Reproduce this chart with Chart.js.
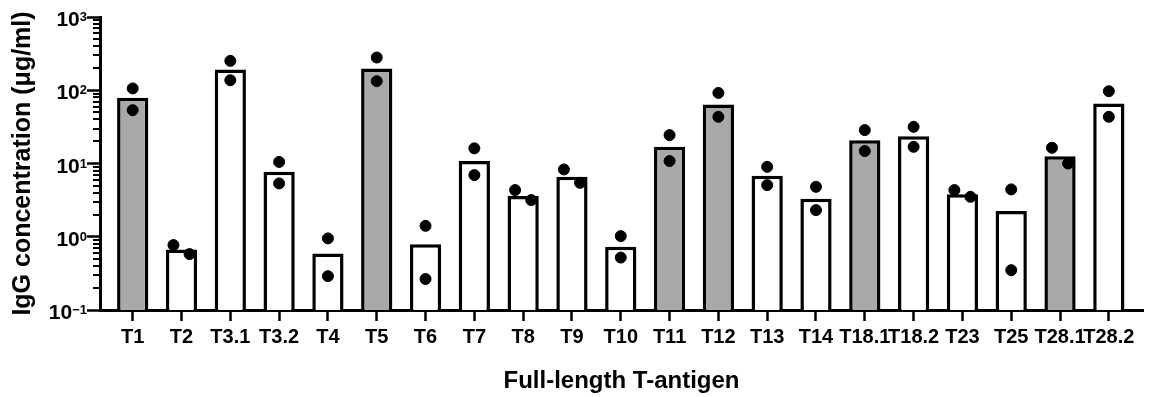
<!DOCTYPE html>
<html>
<head>
<meta charset="utf-8">
<script src="https://cdn.jsdelivr.net/npm/chart.js@4"></script>
<style>
  body { margin: 0; background: #fff; }
  #wrap { width: 1153px; height: 397px; }
</style>
</head>
<body>
<div id="wrap"><canvas id="chart"></canvas></div>
<script>
// ===== DATA =====
const categories = ['T1', 'T2', 'T3.1', 'T3.2', 'T4', 'T5', 'T6', 'T7', 'T8', 'T9', 'T10',
  'T11', 'T12', 'T13', 'T14', 'T18.1', 'T18.2', 'T23', 'T25', 'T28.1', 'T28.2'];
const meanValues = [79, 0.67, 192, 7.7, 0.59, 198, 0.79, 10.8, 3.6, 6.6, 0.73,
  16.9, 64, 6.8, 3.3, 20.8, 23.6, 3.8, 2.24, 12.6, 66];
const replicate1 = [106, 0.77, 252, 10.5, 0.95, 280, 1.41, 16.1, 4.34, 8.3, 1.02,
  24.4, 92, 9.0, 4.8, 28.6, 31.7, 4.34, 4.43, 16.4, 97];
const replicate2 = [53.5, 0.58, 137, 5.35, 0.29, 133, 0.265, 6.95, 3.17, 5.45, 0.52,
  10.8, 43.4, 5.07, 2.31, 14.8, 16.9, 3.51, 0.35, 10.0, 43.4];
const shadedAntigens = ['T1', 'T5', 'T11', 'T12', 'T18.1', 'T28.1'];
const yTickValues = [0.1, 1, 10, 100, 1000];

const FONT = "'Liberation Sans', Arial, sans-serif";

// ===== BUILD POINTS =====
const barPoints = categories.map((c, i) => ({ x: i, y: meanValues[i] }));
const dotPoints = [];
categories.forEach((c, i) => {
  // spread the two dots sideways when they would overlap
  let close = Math.abs(Math.log10(replicate1[i]) - Math.log10(replicate2[i])) < 0.23;
  let dx = close ? 0.165 : 0;
  dotPoints.push({ x: i - dx, y: replicate1[i] });
  dotPoints.push({ x: i + dx, y: replicate2[i] });
});

// ===== MINOR LOG TICKS + POWER LABELS =====
const logAxisDecor = {
  id: 'logAxisDecor',
  afterDraw(chart) {
    const ctx = chart.ctx;
    const y = chart.scales.y;
    const x0 = chart.chartArea.left;
    ctx.save();
    ctx.strokeStyle = '#000';
    ctx.lineWidth = 2;
    for (let e = -1; e < 3; e++) {
      for (let k = 2; k < 10; k++) {
        let py = Math.round(y.getPixelForValue(k * Math.pow(10, e)));
        ctx.beginPath();
        ctx.moveTo(x0 - 7, py);
        ctx.lineTo(x0, py);
        ctx.stroke();
      }
    }
    // tick labels as 10 with a raised exponent
    ctx.fillStyle = '#000';
    ctx.textBaseline = 'alphabetic';
    ctx.textAlign = 'left';
    yTickValues.forEach(v => {
      let py = y.getPixelForValue(v);
      let exp = String(Math.round(Math.log10(v))).replace('-', '\u2212');
      ctx.font = 'bold 13px ' + FONT;
      let ew = ctx.measureText(exp).width;
      ctx.font = 'bold 21px ' + FONT;
      let bw = ctx.measureText('10').width;
      let right = x0 - 13;
      ctx.fillText('10', right - ew - bw, py + 9);
      ctx.font = 'bold 13px ' + FONT;
      ctx.fillText(exp, right - ew, py + 4);
    });
    ctx.restore();
  }
};

// ===== CHART =====
new Chart(document.getElementById('chart'), {
  type: 'bar',
  data: {
    datasets: [{
      type: 'scatter',
      data: dotPoints,
      backgroundColor: '#000',
      borderColor: '#000',
      pointRadius: 5.5,
      order: 1
    }, {
      type: 'bar',
      data: barPoints,
      backgroundColor: categories.map(c => shadedAntigens.includes(c) ? '#a9a9a9' : '#ffffff'),
      borderColor: '#000',
      borderWidth: 3.5,
      borderSkipped: 'start',
      barPercentage: 0.64,
      categoryPercentage: 1,
      order: 2
    }]
  },
  options: {
    responsive: true,
    maintainAspectRatio: false,
    animation: false,
    layout: { padding: { top: 17, right: 10, left: 0, bottom: 0 } },
    plugins: { legend: { display: false }, tooltip: { enabled: false } },
    scales: {
      x: {
        type: 'linear',
        offset: false,
        min: -0.67,
        max: 20.7,
        afterBuildTicks: s => { s.ticks = categories.map((c, i) => ({ value: i })); },
        afterFit: s => { s.height = 87; },
        grid: { display: true, offset: false, drawOnChartArea: false, color: '#000', tickLength: 11, tickWidth: 2.5 },
        border: { display: true, color: '#000', width: 3 },
        ticks: {
          autoSkip: false,
          maxRotation: 0,
          padding: 4,
          color: '#000',
          font: { family: FONT, size: 20, weight: 'bold' },
          callback: v => categories[v]
        },
        title: {
          display: true,
          text: 'Full-length T-antigen',
          color: '#000',
          font: { family: FONT, size: 24, weight: 'bold' },
          padding: { bottom: 1 }
        }
      },
      y: {
        type: 'logarithmic',
        min: 0.1,
        max: 1000,
        afterBuildTicks: s => { s.ticks = yTickValues.map(v => ({ value: v })); },
        afterFit: s => { s.width = 100; },
        grid: { display: true, drawOnChartArea: false, color: '#000', tickLength: 13, tickWidth: 2.5 },
        border: { display: true, color: '#000', width: 3 },
        ticks: { display: false },
        title: {
          display: true,
          text: 'IgG concentration (\u03BCg/ml)',
          color: '#000',
          font: { family: FONT, size: 25, weight: 'bold' },
          padding: { top: 8 }
        }
      }
    }
  },
  plugins: [logAxisDecor]
});
</script>
</body>
</html>
